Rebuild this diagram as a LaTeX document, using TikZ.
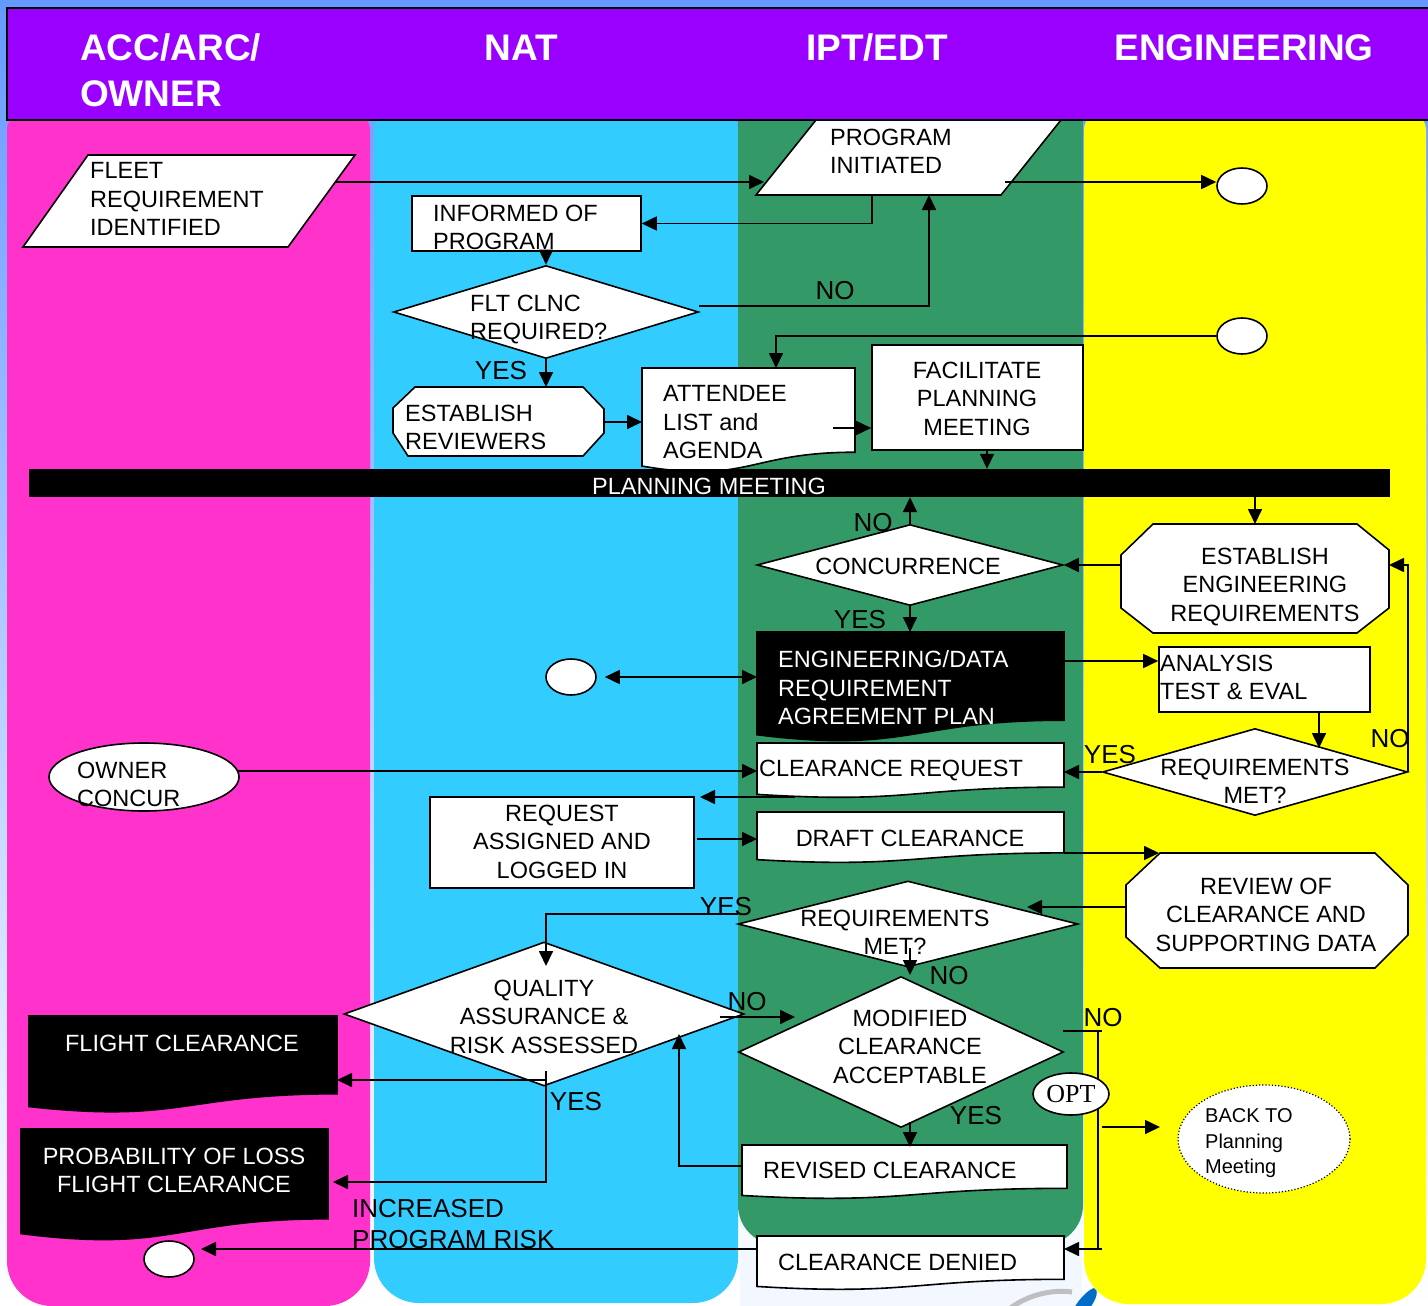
\documentclass[tikz,border=0pt]{standalone}
\usepackage{fontspec}
\setmainfont{Liberation Sans}
\newfontfamily\optfont{Liberation Serif}
\usetikzlibrary{arrows.meta,shapes.geometric,calc}

\definecolor{bgblue}{RGB}{102,153,255}
\definecolor{hdr}{RGB}{153,0,255}
\definecolor{lpink}{RGB}{255,51,204}
\definecolor{lblue}{RGB}{51,204,255}
\definecolor{lgreen}{RGB}{51,153,102}
\definecolor{lyellow}{RGB}{255,255,0}
\definecolor{logoblue}{RGB}{0,110,200}

\newcommand{\docshape}[5]{\filldraw[#1] (#2,#4) -- (#3,#4) -- (#3,{#4+0.802*#5}) .. controls ({(#2+#3)/2},{#4+0.802*#5}) and ({(#2+#3)/2},{#4+1.107*#5}) .. (#2,{#4+0.934*#5}) -- cycle;}

\begin{document}
\begin{tikzpicture}[x=1pt,y=-1pt,
  shp/.style={draw=black, fill=white, line width=1.6pt},
  blk/.style={draw=black, fill=black, line width=1.6pt},
  nshp/.style={shp, inner sep=0pt},
  arr/.style={draw=black, line width=1.7pt, -{Triangle[length=15pt,width=14pt]}},
  darr/.style={draw=black, line width=1.7pt, {Triangle[length=15pt,width=14pt]}-{Triangle[length=15pt,width=14pt]}},
  ln/.style={draw=black, line width=1.7pt},
  txt/.style={inner sep=0pt, font=\fontsize{23.5}{28.5}\selectfont},
  tl/.style={txt, align=left, anchor=north west},
  tc/.style={txt, align=center, anchor=north},
  yn/.style={inner sep=0pt, anchor=base, font=\fontsize{26}{30}\selectfont},
  hd/.style={inner sep=0pt, text=white, font=\bfseries\fontsize{37}{46}\selectfont},
]
\useasboundingbox (0,0) rectangle (1428,1306);
% background
\shade[top color=bgblue, bottom color=white] (0,0) rectangle (1428,1306);
\fill[white!92!bgblue] (740,1240) rectangle (1082,1306);
% lanes (rounded tops just under the header, larger rounding at the bottom)
\fill[lpink, rounded corners=18pt] (7,112) rectangle (370,600);
\fill[lpink, rounded corners=45pt] (7,300) rectangle (370,1306);
\fill[lblue, rounded corners=18pt] (374,112) rectangle (738,600);
\fill[lblue, rounded corners=45pt] (374,300) rectangle (738,1303);
\fill[lgreen] (738,100) rectangle (1083,600);
\fill[lgreen, rounded corners=40pt] (738,300) rectangle (1083,1245);
\fill[lyellow, rounded corners=18pt] (1084,112) rectangle (1426,600);
\fill[lyellow, rounded corners=45pt] (1084,300) rectangle (1426,1304);
% logo fragment
\draw[gray!50, line width=5pt] (1008,1310) .. controls (1025,1296) and (1050,1289) .. (1072,1292);
\fill[logoblue] (1074,1308) .. controls (1080,1298) and (1088,1290) .. (1094,1288) .. controls (1099,1290) and (1097,1298) .. (1090,1308) -- cycle;
% header
\filldraw[fill=hdr, draw=black, line width=1.5pt] (7,8) rectangle (1434,120);
\node[hd, align=left, anchor=north west] (hAcc) at (80,33.7) {ACC/ARC/\\OWNER};
\node[hd, anchor=base] (hNat) at (521,60.3) {NAT};
\node[hd, anchor=base] (hIpt) at (877,60.3) {IPT/EDT};
\node[hd, anchor=base] (hEng) at (1244,60.3) {ENGINEERING};

% ---------- shapes ----------
\filldraw[shp] (88,155) -- (355,155) -- (288,247) -- (23,247) -- cycle;
\filldraw[shp] (816,120) -- (1061,120) -- (1001,195) -- (756,195) -- cycle;
\node[nshp, minimum width=229pt, minimum height=55pt] (INF) at (526.5,223.5) {};
\node[nshp, diamond, minimum width=305pt, minimum height=93pt] (FLT) at (546,312) {};
\filldraw[shp] (415,387) -- (583,387) -- (604,409) -- (604,433) -- (583,456) -- (408,456) -- (393,433) -- (393,408) -- cycle;
\docshape{shp}{642}{855}{368}{105}
\node[nshp, minimum width=211pt, minimum height=105pt] (FAC) at (977.5,397.5) {};
\node[fill=black, inner sep=0pt, minimum width=1361pt, minimum height=28pt] (PLAN) at (709.5,483) {};
\node[nshp, ellipse, minimum width=50pt, minimum height=36pt] (C1) at (1242,186) {};
\node[nshp, ellipse, minimum width=50pt, minimum height=36pt] (C2) at (1242,336) {};
\node[nshp, ellipse, minimum width=50pt, minimum height=36pt] (C3) at (571,677) {};
\node[nshp, ellipse, minimum width=50pt, minimum height=36pt] (C4) at (169,1259) {};
\node[nshp, diamond, minimum width=306pt, minimum height=81pt] (CONC) at (910,565) {};
\filldraw[shp] (1153,524) -- (1357,524) -- (1389,550) -- (1389,608) -- (1357,633) -- (1153,633) -- (1121,608) -- (1121,555) -- cycle;
\docshape{blk}{757}{1064}{632}{110}
\node[nshp, minimum width=211pt, minimum height=65pt] (AN) at (1264.5,679.5) {};
\node[nshp, diamond, minimum width=305pt, minimum height=87pt] (REQE) at (1255,772) {};
\docshape{shp}{757}{1064}{743}{55}
\node[nshp, ellipse, minimum width=190pt, minimum height=68pt] (OWN) at (144,777) {};
\node[nshp, minimum width=264pt, minimum height=91pt] (RA) at (562,842.5) {};
\docshape{shp}{757}{1064}{812}{51}
\filldraw[shp] (1160,853) -- (1375,853) -- (1408,885) -- (1408,935) -- (1375,968) -- (1160,968) -- (1126,937) -- (1126,885) -- cycle;
\node[nshp, diamond, minimum width=340pt, minimum height=86pt] (REQG) at (908,924) {};
\node[nshp, diamond, minimum width=400pt, minimum height=144pt] (QUAL) at (544,1014) {};
\node[nshp, diamond, minimum width=325pt, minimum height=151pt] (MOD) at (901,1052) {};
\docshape{blk}{29}{337}{1016}{97}
\docshape{blk}{21}{328}{1129}{112}
\docshape{shp}{742}{1067}{1145}{54}
\docshape{shp}{757}{1064}{1236}{54}
\node[draw=black, fill=white, line width=1.2pt, dotted, ellipse, inner sep=0pt, minimum width=172pt, minimum height=108pt] (BACK) at (1264,1139) {};

% ---------- connector end points ----------
\coordinate (fleetR) at (335,182);
\coordinate (progL) at (764,182);
\coordinate (progR) at (1005,182);
\coordinate (progB) at (872,195);
\coordinate (progB2) at (929,195);
\coordinate (estrevN) at (546,387);
\coordinate (estrevE) at (604,422);
\coordinate (attW) at (642,422);
\coordinate (attN) at (776,368);
\coordinate (attE) at (833,428);
\coordinate (facB) at (987,450);
\coordinate (estengN) at (1255,524);
\coordinate (estengW) at (1121,565);
\coordinate (estengE) at (1389,565);
\coordinate (engN) at (910,632);
\coordinate (engW) at (757,677);
\coordinate (engE) at (1064,661);
\coordinate (anS) at (1319,712);
\coordinate (reqeT) at (1319,748);
\coordinate (clrE) at (1064,772);
\coordinate (clrW) at (757,771);
\coordinate (ownE) at (238,771);
\coordinate (clrB) at (795,797);
\coordinate (raT) at (700,797);
\coordinate (raE) at (697,839);
\coordinate (drW) at (757,839);
\coordinate (drE) at (1064,853);
\coordinate (revW) at (1159,853);
\coordinate (revL) at (1126,907);
\coordinate (reqgR) at (1027,907);
\coordinate (reqgL) at (738,914);
\coordinate (qualT) at (546,966);
\coordinate (reqgS) at (910,948);
\coordinate (modN) at (910,975);
\coordinate (qualR) at (720,1017);
\coordinate (modL) at (795,1017);
\coordinate (modS) at (910,1122);
\coordinate (revdN) at (910,1147);
\coordinate (revdW) at (742,1166);
\coordinate (qualRB) at (679,1034);
\coordinate (qualB) at (546,1071);
\coordinate (flightE) at (337,1080);
\coordinate (probE) at (333,1182);
\coordinate (modR) at (1063,1031);
\coordinate (optT) at (1098,1031);
\coordinate (optB) at (1098,1249);
\coordinate (denE) at (1064,1249);
\coordinate (denW) at (757,1249);
\coordinate (c4E) at (201,1249);
\coordinate (optR) at (1102,1127);
\coordinate (backW) at (1160,1127);

% ---------- connectors ----------
\draw[arr] (fleetR) -- (progL);
\draw[arr] (progR) -- (progR -| C1.west);
\draw[arr] (progB) |- (INF.east);
\draw[arr] (INF.south -| FLT.north) -- (FLT.north);
\draw[arr] ($(FLT.east)+(0,-6)$) -| (progB2);
\draw[arr] (FLT.south) -- (estrevN);
\draw[arr] (estrevE) -- (attW);
\draw[arr] (C2.west) -| (attN);
\draw[arr] (attE) -- (attE -| FAC.west);
\draw[arr] (facB) -- (facB |- PLAN.north);
\draw[arr] (CONC.north) -- (CONC.north |- PLAN.south);
\draw[arr] (estengN |- PLAN.south) -- (estengN);
\draw[arr] (estengW) -- (CONC.east);
\draw[arr] (CONC.south) -- (engN);
\draw[darr, shorten <=8pt] (C3.east) -- (engW);
\draw[arr] (engE) -- (engE -| AN.west);
\draw[arr] (anS) -- (reqeT);
\draw[arr] (REQE.east) |- (estengE);
\draw[arr] (REQE.west) -- (clrE);
\draw[arr] (ownE) -- (clrW);
\draw[arr] (clrB) -- (raT);
\draw[arr] (raE) -- (drW);
\draw[arr] (drE) -- (revW);
\draw[arr] (revL) -- (reqgR);
\draw[arr] (reqgL) -| (qualT);
\draw[arr] (reqgS) -- (modN);
\draw[arr] (qualR) -- (modL);
\draw[arr] (modS) -- (revdN);
\draw[arr] (revdW) -| (qualRB);
\draw[arr] (qualB |- flightE) -- (flightE);
\draw[arr] (qualB) |- (probE);
\draw[ln] (modR) -- ($(optT)+(4,0)$);
\draw[ln] (optT) -- (optB);
\draw[arr] ($(optB)+(4,0)$) -- (denE);
\draw[arr] (denW) -- (c4E);
\draw[arr] (optR) -- (backW);
\node[nshp, ellipse, minimum width=76pt, minimum height=42pt] (OPT) at (1071,1094) {};

% ---------- texts ----------
\node[tl] (tFleet) at (90,162.5) {FLEET\\REQUIREMENT\\IDENTIFIED};
\node[tl] (tProg) at (830,128.5) {PROGRAM\\INITIATED};
\node[tl] (tInf) at (433,204.5) {INFORMED OF\\PROGRAM};
\node[tl] (tFlt) at (470,294.5) {FLT CLNC\\REQUIRED?};
\node[tl] (tEstRev) at (405,404.5) {ESTABLISH\\REVIEWERS};
\node[tl] (tAtt) at (663,385.5) {ATTENDEE\\LIST and\\AGENDA};
\node[tc] (tFac) at (977,361.5) {FACILITATE\\PLANNING\\MEETING};
\node[tc, text=white] (tPlan) at (709,477.5) {PLANNING MEETING};
\node[tc] (tConc) at (908,557.5) {CONCURRENCE};
\node[tc] (tEstEng) at (1265,547.5) {ESTABLISH\\ENGINEERING\\REQUIREMENTS};
\node[tl, text=white] (tEngData) at (778,650.5) {ENGINEERING/DATA\\REQUIREMENT\\AGREEMENT PLAN};
\node[tl] (tAn) at (1160,654.5) {ANALYSIS\\TEST \& EVAL};
\node[tc] (tReqE) at (1255,758.5) {REQUIREMENTS\\MET?};
\node[tl] (tClr) at (759,759.5) {CLEARANCE REQUEST};
\node[tl] (tOwn) at (77,761.5) {OWNER\\CONCUR};
\node[tc] (tRA) at (562,804.5) {REQUEST\\ASSIGNED AND\\LOGGED IN};
\node[tc] (tDraft) at (910,829.5) {DRAFT CLEARANCE};
\node[tc] (tRev) at (1266,877.5) {REVIEW OF\\CLEARANCE AND\\SUPPORTING DATA};
\node[tc] (tReqG) at (895,909.5) {REQUIREMENTS\\MET?};
\node[tc] (tQual) at (544,979.5) {QUALITY\\ASSURANCE \&\\RISK ASSESSED};
\node[tc] (tMod) at (910,1009.5) {MODIFIED\\CLEARANCE\\ACCEPTABLE};
\node[tc, text=white] (tFlight) at (182,1034.5) {FLIGHT CLEARANCE};
\node[tc, text=white] (tProb) at (174,1147.5) {PROBABILITY OF LOSS\\FLIGHT CLEARANCE};
\node[tl] (tRevd) at (763,1161.5) {REVISED CLEARANCE};
\node[tl] (tDen) at (778,1253.5) {CLEARANCE DENIED};
\node[tl, font=\fontsize{26}{31}\selectfont] (tRisk) at (352,1198.7) {INCREASED\\PROGRAM RISK};
\node[tl, font=\fontsize{20}{25.5}\selectfont] (tBack) at (1205,1108.8) {BACK TO\\Planning\\Meeting};
\node[inner sep=0pt, anchor=base, font=\optfont\fontsize{26}{30}\selectfont] (tOpt) at (1071,1102.6) {OPT};

\node[yn] (yes1) at (501,379.3) {YES};
\node[yn] (no1) at (835,299.3) {NO};
\node[yn] (no2) at (873,531.3) {NO};
\node[yn] (yes2) at (860,628.3) {YES};
\node[yn] (no3) at (1390,747.3) {NO};
\node[yn] (yes3) at (1110,763.3) {YES};
\node[yn] (yes4) at (726,915.3) {YES};
\node[yn] (no4) at (949,984.3) {NO};
\node[yn] (no5) at (747,1010.3) {NO};
\node[yn] (no6) at (1103,1026.3) {NO};
\node[yn] (yes5) at (576,1110.3) {YES};
\node[yn] (yes6) at (976,1124.3) {YES};
\end{tikzpicture}
\end{document}
